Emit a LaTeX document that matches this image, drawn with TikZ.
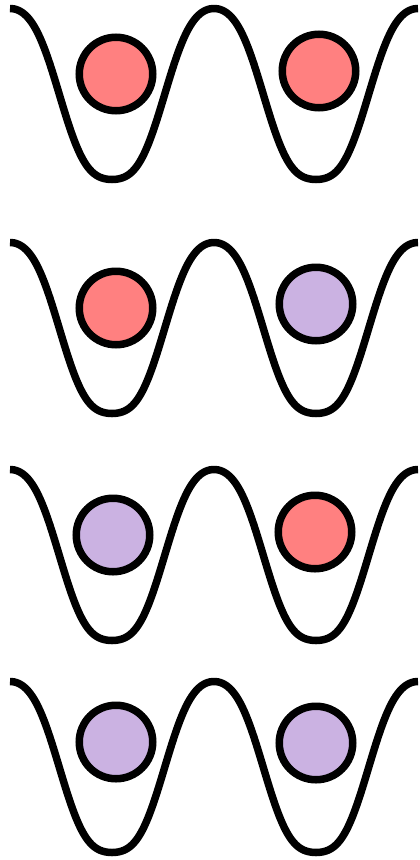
\documentclass[tikz,border=0pt]{standalone}
\definecolor{redball}{RGB}{255,128,128}
\definecolor{purpleball}{RGB}{203,178,226}
\begin{document}
\begin{tikzpicture}[x=1pt,y=-1pt,
  declare function={wd(\a)=(1+cos(\a))/2 + 0.035*sin(\a)*sin(\a) + 0.13*sin(\a)*sin(\a)*cos(\a);},
  wellline/.style={line width=7.5pt, black, line join=round},
  ball/.style={circle, draw=black, line width=7.5pt, minimum size=73.5pt, inner sep=0pt},
  redb/.style={ball, fill=redball},
  purpb/.style={ball, fill=purpleball},
  dwell/.pic={
    \draw[wellline]
      plot[domain=10:418, samples=205] (\x, {171*wd((\x-112)*1.764706)});
  }]
\useasboundingbox (0,0) rectangle (420,860);
\pic at (0,8.5) {dwell};
\pic at (0,242.5) {dwell};
\pic at (0,469.5) {dwell};
\pic at (0,681.5) {dwell};
\node[redb] (a1) at (116,74) {};
\node[redb] (b1) at (319,71) {};
\node[redb] (a2) at (116,308) {};
\node[purpb] (b2) at (316,304) {};
\node[purpb] (a3) at (113,535) {};
\node[redb] (b3) at (315,532) {};
\node[purpb] (a4) at (116,742) {};
\node[purpb] (b4) at (316,743) {};
\end{tikzpicture}
\end{document}
